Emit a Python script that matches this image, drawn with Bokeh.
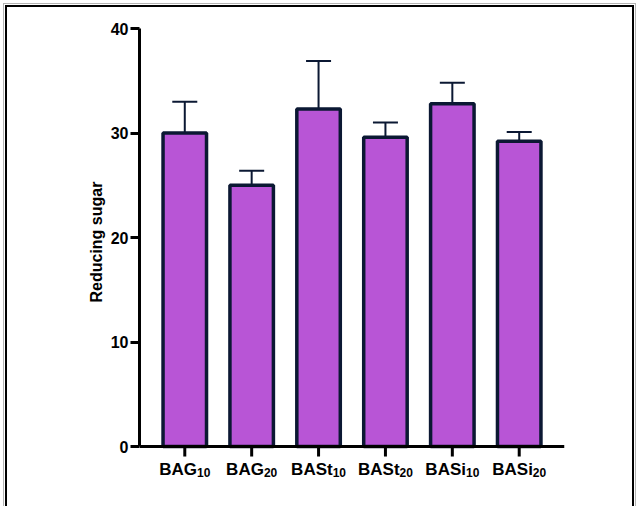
import math

from bokeh.plotting import figure
from bokeh.models import (ColumnDataSource, FactorRange, Range1d, Whisker,
                          TeeHead, Title)
from bokeh.core.properties import value
from bokeh.embed import file_html
from bokeh.resources import INLINE

# Sample groups: base name plus subscript dose
bases = ["BAG", "BAG", "BASt", "BASt", "BASi", "BASi"]
subs = ["10", "20", "10", "20", "10", "20"]
categories = [b + s for b, s in zip(bases, subs)]

# Mean reducing sugar and its upper error (SD)
means = [30.0, 25.0, 32.3, 29.6, 32.8, 29.2]
errors = [3.0, 1.4, 4.6, 1.4, 2.0, 0.9]

y_ticks = [0, 10, 20, 30, 40]

FILL = "#B855D6"
EDGE = "#0B1833"
FONT = "Liberation Sans"

# Approximate Arial Bold advance widths (em) for label centring
ADV = {"B": .722, "A": .722, "G": .778, "S": .667, "t": .333, "i": .278,
       "0": .556, "1": .556, "2": .556}


def text_w(s, size):
    return sum(ADV.get(c, .6) for c in s) * size


BASE_SIZE = 17
SUB_SIZE = 12
offsets = []
for b, s in zip(bases, subs):
    wb = text_w(b, BASE_SIZE)
    ws = text_w(s, SUB_SIZE)
    offsets.append((wb - ws) / 2.0)

src = ColumnDataSource(data=dict(
    cat=categories, mean=means,
    upper=[m + e for m, e in zip(means, errors)],
    base=bases, sub=subs, off=offsets, zero=[0] * len(means),
))

# Frame runs to the bottom of the page; the x axis sits at y = 0
p = figure(
    x_range=FactorRange(*categories, range_padding=0.059),
    y_range=Range1d(-5.74, 40),
    width=639, height=506,
    output_backend="svg", toolbar_location=None,
    min_border_left=139, min_border_right=75,
    min_border_top=28, min_border_bottom=0,
)
p.outline_line_color = None
p.background_fill_color = None
p.border_fill_color = None
p.xgrid.grid_line_color = None
p.ygrid.grid_line_color = None

# Page frame drawn behind the transparent canvas
p.styles = {
    "background": (
        "linear-gradient(#b4b4b4,#b4b4b4) 3px 3px / 1px 600px no-repeat,"
        "linear-gradient(#b4b4b4,#b4b4b4) 3px 3px / 633px 1px no-repeat,"
        "linear-gradient(#b4b4b4,#b4b4b4) 635px 3px / 1px 600px no-repeat,"
        "linear-gradient(#000,#000) 5px 5px / 2px 600px no-repeat,"
        "linear-gradient(#000,#000) 5px 5px / 628px 2px no-repeat,"
        "linear-gradient(#000,#000) 632px 5px / 2px 600px no-repeat,"
        "#ffffff"
    ),
}

p.vbar(x="cat", top="mean", width=0.65, source=src,
       fill_color=FILL, line_color=EDGE, line_width=3.5)

p.add_layout(Whisker(
    base="cat", lower="mean", upper="upper", source=src,
    line_color=EDGE, line_width=2,
    upper_head=TeeHead(size=25, line_color=EDGE, line_width=2),
    lower_head=None,
))

# Y axis
p.yaxis.ticker = y_ticks
p.yaxis.bounds = (0, 40)
p.yaxis.axis_line_width = 3
p.yaxis.axis_line_color = "black"
p.yaxis.major_tick_line_width = 3
p.yaxis.major_tick_out = 9
p.yaxis.major_tick_in = 0
p.yaxis.minor_tick_line_color = None
p.yaxis.major_label_standoff = 2
p.yaxis.major_label_text_font = FONT
p.yaxis.major_label_text_font_style = "bold"
p.yaxis.major_label_text_font_size = "16px"
p.yaxis.major_label_text_color = "black"

# Y axis title, placed along the 0-40 span of the axis
p.add_layout(Title(
    text="Reducing sugar", align="left", offset=204, standoff=6,
    text_font=FONT, text_font_style="bold", text_font_size="16px",
    text_color="black",
), "left")

# X axis at y = 0; labels drawn with subscripts below
p.xaxis.fixed_location = 0
p.xaxis.axis_line_width = 3
p.xaxis.axis_line_color = "black"
p.xaxis.major_tick_out = 0
p.xaxis.major_tick_in = 0
p.xaxis.major_label_text_font_size = "0px"
p.xaxis.major_label_text_color = None

# Category ticks: short downward strokes from the x axis
p.ray(x="cat", y="zero", source=src, length=10, length_units="screen",
      angle=-math.pi / 2, line_width=3, line_color="black", level="overlay")

p.text(x="cat", y="zero", text="base", source=src,
       x_offset="off", y_offset=13,
       text_align="right", text_baseline="top",
       text_font=value(FONT), text_font_style="bold",
       text_font_size=value(f"{BASE_SIZE}px"), text_color="black")
p.text(x="cat", y="zero", text="sub", source=src,
       x_offset="off", y_offset=21,
       text_align="left", text_baseline="top",
       text_font=value(FONT), text_font_style="bold",
       text_font_size=value(f"{SUB_SIZE}px"), text_color="black")

open("out.html", "w").write(file_html(p, INLINE))
